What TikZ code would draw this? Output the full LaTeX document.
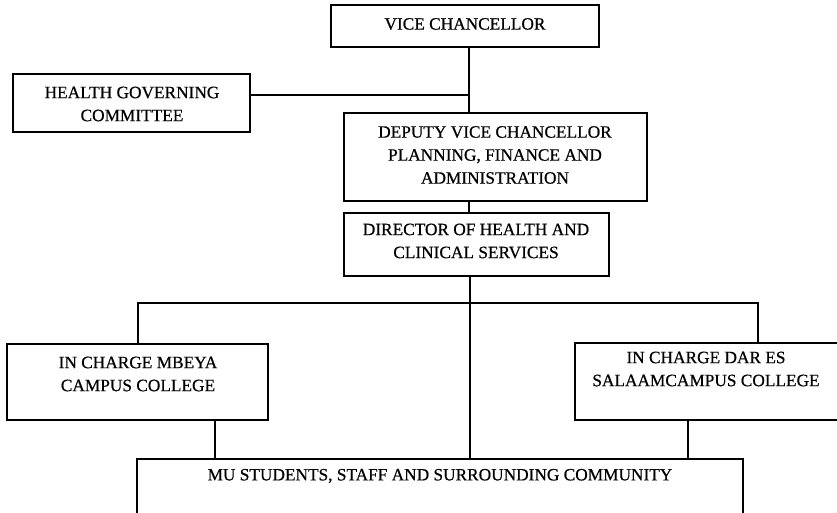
\documentclass[tikz,border=0pt]{standalone}
\usepackage{fontspec}
\setmainfont[FakeBold=0.6,AutoFakeBold=0.6]{Liberation Serif}
\begin{document}
\begin{tikzpicture}[x=1pt,y=-1pt,
  box/.style={draw=black,line width=1.3pt,rectangle,inner sep=0pt,minimum width=#1},
  txt/.style={inner sep=0pt,align=center,font=\fontsize{17.3}{23}\selectfont\bfseries},
  conn/.style={draw=black,line width=1.3pt}]
\useasboundingbox (0,0) rectangle (837,513);
\clip (0,0) rectangle (837,513);
% boxes
\node[box=268pt,minimum height=42pt] (vc) at (465,26) {};
\node[box=237pt,minimum height=58pt] (hgc) at (131.5,103) {};
\node[box=303pt,minimum height=88pt] (dvc) at (495.5,157) {};
\node[box=265pt,minimum height=63pt] (dir) at (476.5,244.5) {};
\node[box=261pt,minimum height=76pt] (mb) at (137.5,382) {};
\node[box=276pt,minimum height=77pt] (dar) at (713,381.5) {};
\node[box=606pt,minimum height=90pt] (bot) at (440,504) {};
% texts
\node[txt] (tvc) at (465,24) {VICE CHANCELLOR};
\node[txt] (thgc) at (132,104) {HEALTH GOVERNING\\COMMITTEE};
\node[txt] (tdvc) at (495,155) {DEPUTY VICE CHANCELLOR\\PLANNING, FINANCE AND\\ADMINISTRATION};
\node[txt] (tdir) at (476,241) {DIRECTOR OF HEALTH AND\\CLINICAL SERVICES};
\node[txt] (tmb) at (138,374) {IN CHARGE MBEYA\\CAMPUS COLLEGE};
\node[txt] (tdar) at (706,369) {IN CHARGE DAR ES\\SALAAMCAMPUS COLLEGE};
\node[txt] (tbot) at (440,476) {MU STUDENTS, STAFF AND SURROUNDING COMMUNITY};
% connector coordinates
\coordinate (spine) at (469,95);
\coordinate (br) at (470,303);
\coordinate (brl) at (138,303);
\coordinate (brr) at (758,303);
\coordinate (mbx) at (215,0);
\coordinate (darx) at (688,0);
% connectors
\draw[conn] (vc.south -| spine) -- (dvc.north -| spine);
\draw[conn] (hgc.east |- spine) -- (spine);
\draw[conn] (dvc.south -| spine) -- (dir.north -| spine);
\draw[conn] (dir.south -| br) -- (bot.north -| br);
\draw[conn] (mb.north -| brl) -- (brl) -- (brr) -- (dar.north -| brr);
\draw[conn] (mb.south -| mbx) -- (bot.north -| mbx);
\draw[conn] (dar.south -| darx) -- (bot.north -| darx);
\end{tikzpicture}
\end{document}
